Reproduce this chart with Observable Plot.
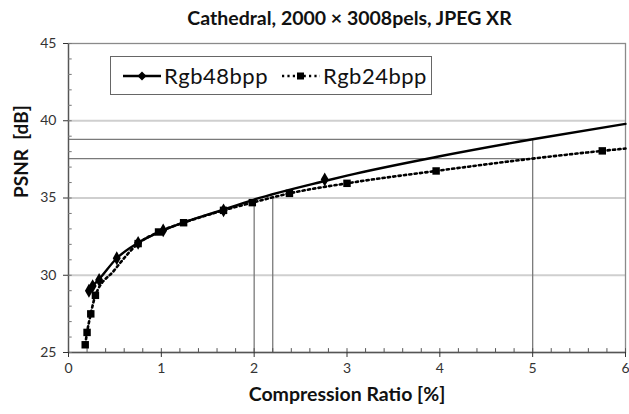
<!DOCTYPE html>
<html>
<head>
<meta charset="utf-8">
<script src="https://cdn.jsdelivr.net/npm/d3@7"></script>
<script src="https://cdn.jsdelivr.net/npm/@observablehq/plot@0.6"></script>
<style>
  body { margin: 0; background: #fff; font-family: Lato, "Open Sans", sans-serif; }
  #wrap { position: relative; width: 629px; height: 414px; overflow: hidden; }
  #title { height: 30px; line-height: 36px; font-size: 19.5px; font-weight: bold; text-align: center; padding-left: 70px; color: #111; white-space: nowrap; }
  #legend { position: absolute; left: 110px; top: 56px; width: 320px; height: 37px; border: 1px solid #666; background: #fff; display: flex; align-items: center; font-size: 22px; letter-spacing: 0.5px; color: #111; }
  #legend .item { display: flex; align-items: center; }
  #legend svg { display: block; }
</style>
</head>
<body>
<div id="wrap">
  <div id="title">Cathedral, 2000 × 3008pels, JPEG XR</div>
  <div id="chart"></div>
  <div id="legend"></div>
</div>
<script>
// Series names
const seriesNames = ["Rgb48bpp", "Rgb24bpp"];

// Rgb48bpp measured points (diamonds)
const r48X = [0.22, 0.26, 0.33, 0.52, 0.75, 1.02, 1.67, 2.76];
const r48Y = [29.0, 29.3, 29.7, 31.1, 32.1, 32.9, 34.2, 36.2];
// Rgb48bpp fitted curve
const fit48X = [0.22, 0.26, 0.33, 0.52, 0.75, 1.02, 1.67, 2.0, 2.76, 3.0, 4.0, 5.0, 6.0];
const fit48Y = [29.0, 29.3, 29.75, 31.1, 32.1, 32.9, 34.25, 34.9, 36.1, 36.45, 37.7, 38.8, 39.8];

// Rgb24bpp measured points (squares)
const r24X = [0.18, 0.20, 0.24, 0.29, 0.75, 0.97, 1.24, 1.67, 1.98, 2.38, 3.0, 3.96, 5.75];
const r24Y = [25.5, 26.3, 27.5, 28.7, 32.05, 32.8, 33.4, 34.2, 34.7, 35.3, 35.95, 36.75, 38.05];
// Rgb24bpp fitted curve
const fit24X = [0.18, 0.20, 0.24, 0.29, 0.49, 0.75, 0.97, 1.24, 1.67, 1.98, 2.38, 3.0, 3.96, 5.0, 5.75, 6.0];
const fit24Y = [25.5, 26.3, 27.5, 28.7, 30.3, 32.05, 32.8, 33.4, 34.2, 34.7, 35.3, 35.95, 36.75, 37.55, 38.05, 38.2];

// Reference (guide) lines
const refHY = [38.8, 37.55];
const refHXEnd = 5;
const refVX = [2, 2.2, 5];
const refVTop = [34.9, 34.95, 38.8];

// Axis ticks
const xTicks = [0, 1, 2, 3, 4, 5, 6];
const yTicks = [25, 30, 35, 40, 45];
const gridY = [30, 35, 40];
const xMinor = d3.range(0, 31).map(i => i / 5);
const yMinor = d3.range(25, 46);

const pts48 = r48X.map((x, i) => ({x, y: r48Y[i]}));
const pts24 = r24X.map((x, i) => ({x, y: r24Y[i]}));
const line48 = fit48X.map((x, i) => ({x, y: fit48Y[i]}));
const line24 = fit24X.map((x, i) => ({x, y: fit24Y[i]}));
const hRefs = refHY.map(y => ({y, x1: 0, x2: refHXEnd}));
const vRefs = refVX.map((x, i) => ({x, y1: 25, y2: refVTop[i]}));

const chart = Plot.plot({
  width: 629,
  height: 384,
  marginTop: 13,
  marginBottom: 62,
  marginLeft: 68,
  marginRight: 4,
  style: {fontFamily: "Lato, 'Open Sans', sans-serif", background: "#fff", overflow: "visible"},
  x: {domain: [0, 6]},
  y: {domain: [25, 45]},
  marks: [
    Plot.ruleY(gridY, {stroke: "#cfcfcf", strokeWidth: 2}),
    Plot.ruleY(hRefs, {y: "y", x1: "x1", x2: "x2", stroke: "#7a7a7a", strokeWidth: 1.3}),
    Plot.ruleX(vRefs, {x: "x", y1: "y1", y2: "y2", stroke: "#7a7a7a", strokeWidth: 1.3}),
    Plot.frame({stroke: "#8a8a8a", strokeWidth: 1.3}),
    Plot.ruleX([0], {stroke: "#555", strokeWidth: 1.3}),
    Plot.ruleY([25], {stroke: "#555", strokeWidth: 1.3}),
    Plot.ruleX(xMinor, {y1: 25, y2: 25.25, stroke: "#555"}),
    Plot.ruleY(yMinor, {x1: 0, x2: 0.04, stroke: "#777"}),
    Plot.axisX({ticks: xTicks, tickSize: 5, tickPadding: 6, fontSize: 14, color: "#333", label: null, tickFormat: d => d}),
    Plot.axisY({ticks: yTicks, tickSize: 5, tickPadding: 7, fontSize: 14, color: "#333", label: null, tickFormat: d => d}),
    Plot.line(line24, {x: "x", y: "y", curve: "monotone-x", stroke: "#000", strokeWidth: 2.6, strokeDasharray: "2.2,3.2"}),
    Plot.line(line48, {x: "x", y: "y", curve: "monotone-x", stroke: "#000", strokeWidth: 2.4}),
    Plot.dot(pts24, {x: "x", y: "y", symbol: "square", r: 4.2, fill: "#000"}),
    Plot.dot(pts48, {x: "x", y: "y", symbol: "diamond", r: 4.2, fill: "#000"}),
    Plot.text(["PSNR\u00a0\u00a0[dB]"], {frameAnchor: "left", rotate: -90, dx: -47, fontSize: 19, fontWeight: "bold", fill: "#111"}),
    Plot.text(["Compression Ratio [%]"], {frameAnchor: "bottom", dy: 48, fontSize: 19.5, fontWeight: "bold", fill: "#111"})
  ]
});
document.getElementById("chart").appendChild(chart);

// Legend
const legend = document.getElementById("legend");
const swatches = [
  {dash: null, sym: "diamond"},
  {dash: "2.2,3.2", sym: "square"}
];
seriesNames.forEach((name, i) => {
  const item = document.createElement("div");
  item.className = "item";
  item.style.marginLeft = i === 0 ? "12px" : "14px";
  const s = swatches[i];
  const marker = s.sym === "diamond"
    ? `<path d="M19,0.5 L23.5,5 L19,9.5 L14.5,5Z" fill="#000"/>`
    : `<rect x="15" y="1.5" width="7" height="7" fill="#000"/>`;
  item.innerHTML = `<svg width="38" height="10"><line x1="0" y1="5" x2="38" y2="5" stroke="#000" stroke-width="${s.dash ? 2.6 : 2.4}" ${s.dash ? `stroke-dasharray="${s.dash}"` : ""}/>${marker}</svg><span style="margin-left:3px">${name}</span>`;
  legend.appendChild(item);
});
</script>
</body>
</html>
